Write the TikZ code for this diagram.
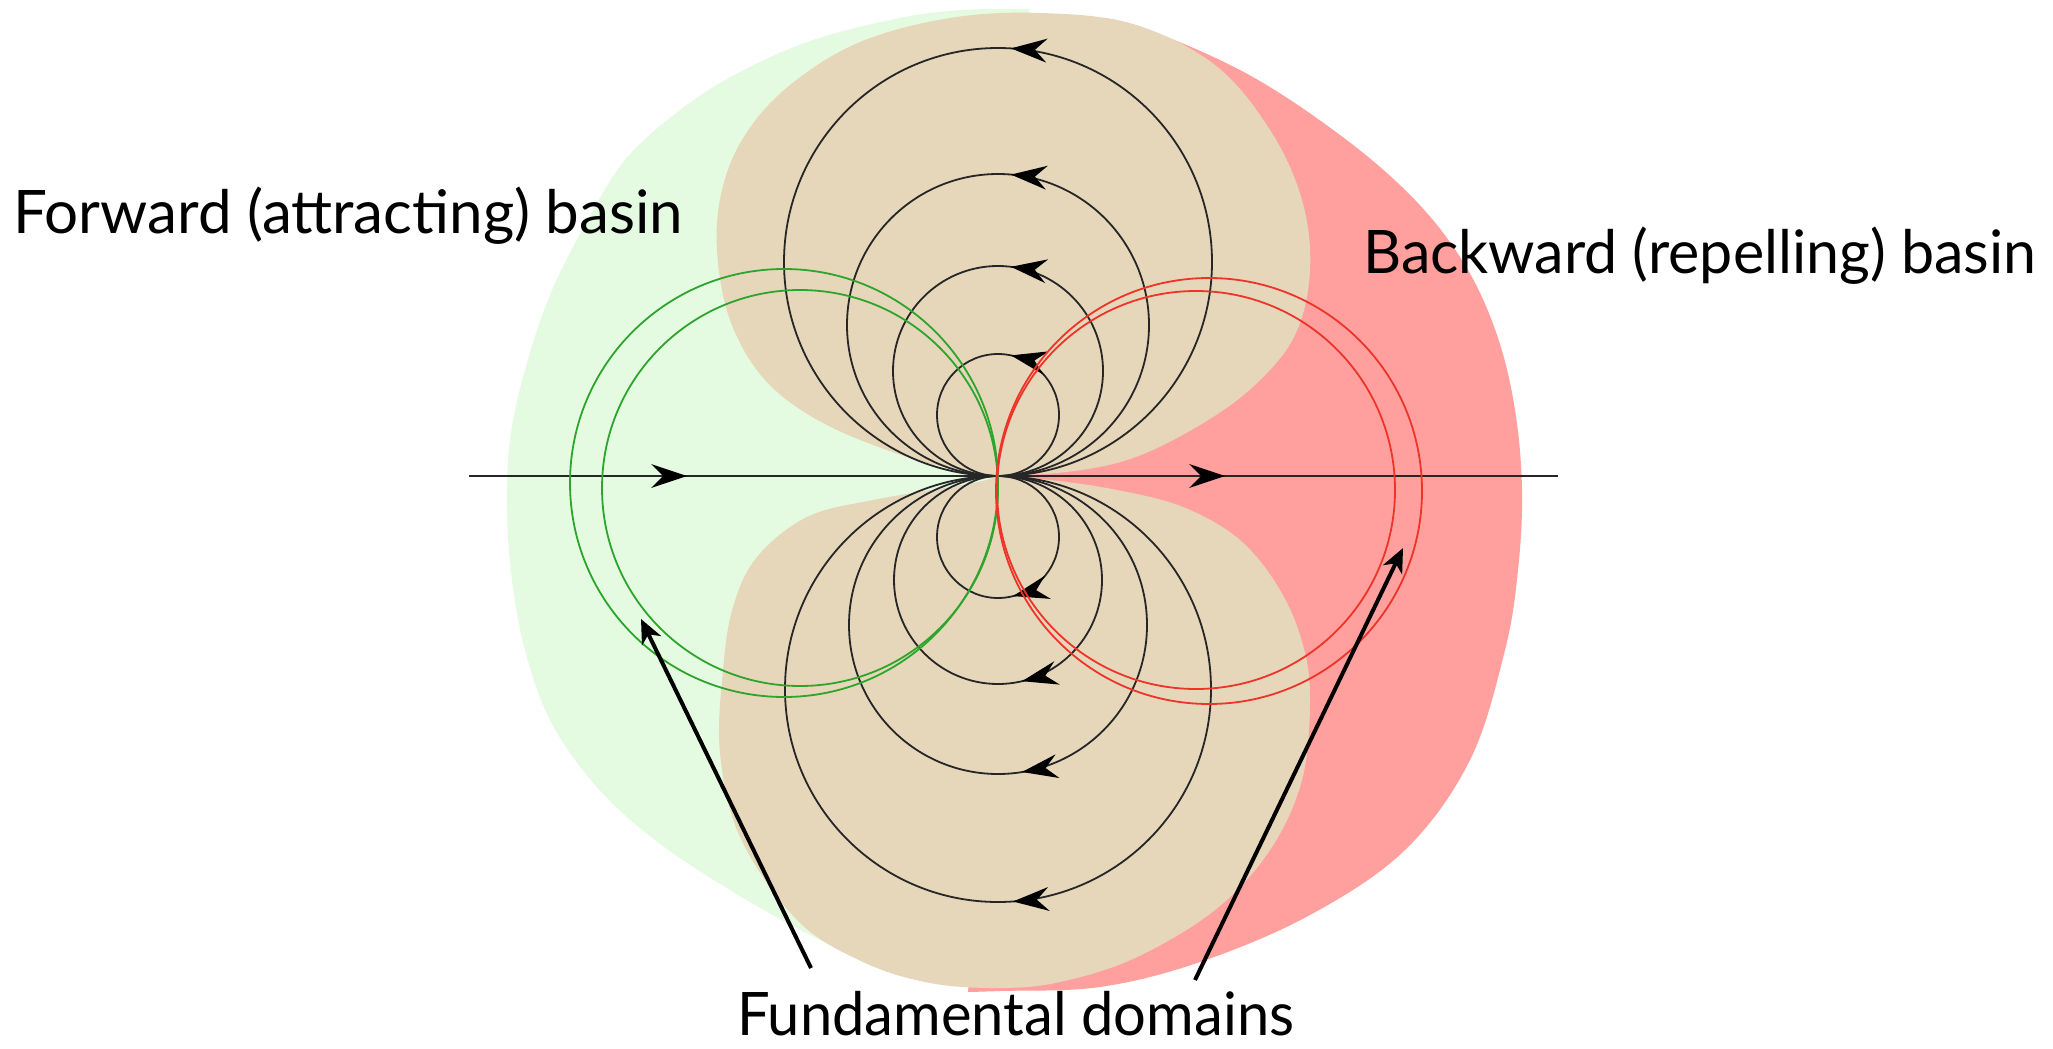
\documentclass[tikz,border=0pt]{standalone}
\usepackage{fontspec}
\setmainfont{Lato}
\usetikzlibrary{arrows.meta}
\definecolor{bggreen}{RGB}{228,251,226}
\definecolor{bgred}{RGB}{255,160,158}
\definecolor{bgtan}{RGB}{230,215,187}
\definecolor{cgreen}{RGB}{45,165,45}
\definecolor{cred}{RGB}{238,52,40}
\begin{document}
\begin{tikzpicture}[x=1pt,y=-1pt,
  flowline/.style={line width=1.8pt, draw=black!85},
  fdgreen/.style={line width=1.8pt, draw=cgreen},
  fdred/.style={line width=1.8pt, draw=cred},
  lbl/.style={inner sep=0pt, anchor=base west, font=\fontsize{60}{72}\selectfont},
  pointer/.style={line width=4pt, -{Stealth[length=24pt,width=21pt,inset=7pt]}},
  flowtip/.pic={\fill[black] (0,0) -- (36,-12) -- (24,0) -- (36,12) -- cycle;}
]
\useasboundingbox (0,0) rectangle (2053,1049);
\fill[white] (0,0) rectangle (2053,1049);

% background regions
\fill[bggreen] plot[smooth, tension=0.6] coordinates {(1030,9) (963,10) (900,18) (813,40) (740,72) (680,110) (625,160) (585,225) (550,295) (525,370) (510,440) (507,510) (512,580) (525,650) (550,720) (595,785) (655,840) (730,890) (810,935) (880,966) (935,984)} -- (985,900) -- (997,476) -- (1000,100) -- cycle;
\fill[bgred] plot[smooth, tension=0.6] coordinates {(1000,20) (1070,19) (1127,23) (1240,70) (1340,135) (1415,200) (1465,265) (1497,335) (1515,410) (1522,490) (1518,570) (1505,650) (1470,760) (1405,850) (1310,915) (1200,962) (1100,987) (1000,991) (968,992)} -- (985,800) -- (997,476) -- cycle;
\fill[bgtan] plot[smooth, tension=0.6] coordinates {(997,476) (973,473) (907,457) (823,423) (765,380) (730,320) (717,250) (722,190) (745,135) (790,85) (860,42) (950,18) (1040,13) (1133,24) (1215,65) (1270,130) (1302,200) (1310,270) (1295,335) (1255,385) (1200,425) (1133,458) (1067,472) (997,476)} -- cycle;
\fill[bgtan] plot[smooth, tension=0.6] coordinates {(997,476) (1050,480) (1117,490) (1183,507) (1240,540) (1280,590) (1303,645) (1310,700) (1302,780) (1270,850) (1215,910) (1135,958) (1060,982) (1000,988) (930,983) (863,962) (797,920) (740,837) (720,753) (723,670) (733,607) (757,557) (807,517) (873,500) (973,483) (997,476)} -- cycle;

% flow circles
\draw[flowline] (998,262) circle[radius=214];
\draw[flowline] (998,325) circle[radius=151];
\draw[flowline] (998,371) circle[radius=105];
\draw[flowline] (998,415) circle[radius=61];
\draw[flowline] (998,537) circle[radius=61];
\draw[flowline] (998,580) circle[radius=104];
\draw[flowline] (998,625) circle[radius=149];
\draw[flowline] (998,689) circle[radius=213];

% axis
\coordinate (axL) at (469,476);
\coordinate (axR) at (1558,476);
\draw[flowline] (axL) -- (axR);
\pic[rotate=180] at (687,476) {flowtip};
\pic[rotate=180] at (1225,476) {flowtip};

% arrow heads on flow circles
\pic[rotate=-3.5] at (1011,48.4) {flowtip};
\pic[rotate=-4.9] at (1011,174.6) {flowtip};
\pic[rotate=-7.1] at (1011,266.8) {flowtip};
\pic[rotate=-12.3] at (1011,355.4) {flowtip};
\pic[rotate=14.2] at (1013,596.1) {flowtip};
\pic[rotate=13.3] at (1022,681.2) {flowtip};
\pic[rotate=9.3] at (1022,772) {flowtip};
\pic[rotate=4.0] at (1013,901.5) {flowtip};

% fundamental domain circles
\draw[fdgreen] (784,483) circle[radius=214];
\draw[fdgreen] (800,488) circle[radius=198];
\draw[fdred] (1209,491) circle[radius=213];
\draw[fdred] (1196,490) circle[radius=199];

% labels
\node[lbl] (fwd) at (13,233) {\resizebox{670pt}{\height}{Forward (attracting) basin}};
\node[lbl] (bwd) at (1363,273) {\resizebox{673pt}{\height}{Backward (repelling) basin}};
\node[lbl] (fund) at (737,1035) {\resizebox{557pt}{\height}{Fundamental domains}};

% pointers
\coordinate (fdLtail) at (811,968);
\coordinate (fdLtip) at (641,619);
\coordinate (fdRtail) at (1195,980);
\coordinate (fdRtip) at (1403,548);
\draw[pointer] (fdLtail) -- (fdLtip);
\draw[pointer] (fdRtail) -- (fdRtip);
\end{tikzpicture}
\end{document}
